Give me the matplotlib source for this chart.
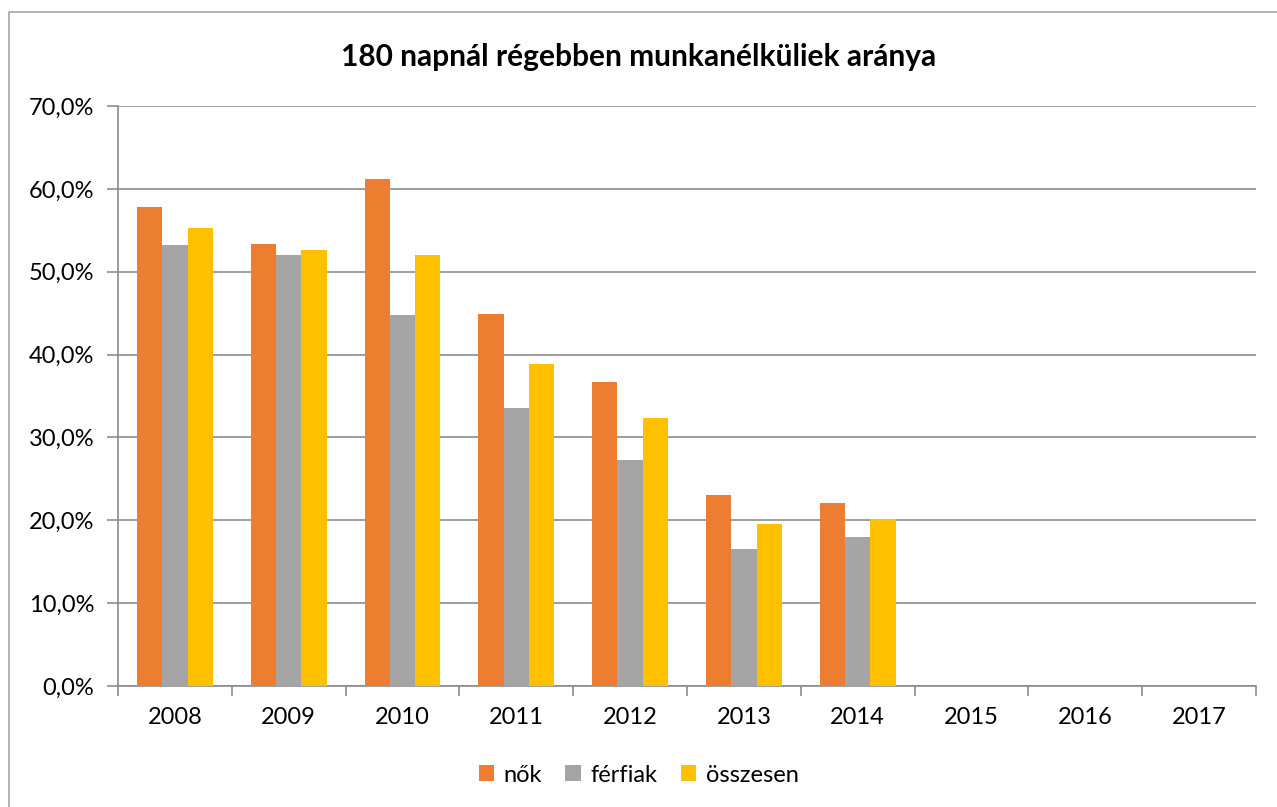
import matplotlib
matplotlib.use("Agg")
import matplotlib.pyplot as plt
import numpy as np
from matplotlib.patches import Rectangle
from matplotlib.ticker import FuncFormatter, FixedLocator, MultipleLocator

years = ["2008", "2009", "2010", "2011", "2012", "2013", "2014", "2015", "2016", "2017"]
nok = [57.8, 53.4, 61.2, 44.9, 36.7, 23.1, 22.1, np.nan, np.nan, np.nan]
ferfiak = [53.2, 52.0, 44.8, 33.5, 27.3, 16.5, 18.0, np.nan, np.nan, np.nan]
osszesen = [55.3, 52.6, 52.0, 38.9, 32.4, 19.6, 20.1, np.nan, np.nan, np.nan]
series_names = ["nők", "férfiak", "összesen"]
colors = ["#ED7D31", "#A5A5A5", "#FFC000"]
title = "180 napnál régebben munkanélküliek aránya"

plt.rcParams['font.family'] = ['Lato', 'DejaVu Sans']

W, H = 1277, 807
fig = plt.figure(figsize=(W / 100, H / 100), dpi=100)
fig.patches.append(Rectangle((9 / W, -0.1), 1.2, 1 - 12 / H + 0.1, transform=fig.transFigure,
                             fill=False, edgecolor="#A6A6A6", linewidth=1.2))

left, right, top, bottom = 118, 1256, 106, 686
ax = fig.add_axes([left / W, 1 - bottom / H, (right - left) / W, (bottom - top) / H])

x = np.arange(len(years))
bw = 0.222
for i, (vals, c, name) in enumerate(zip([nok, ferfiak, osszesen], colors, series_names)):
    ax.bar(x + (i - 1) * bw, vals, width=bw, color=c, label=name, zorder=3)

ax.set_xlim(-0.5, len(years) - 0.5)
ax.set_ylim(0, 70)
ax.yaxis.set_major_locator(MultipleLocator(10))
ax.yaxis.set_major_formatter(FuncFormatter(lambda v, p: f"{v:.1f}%".replace(".", ",")))
ax.grid(axis="y", color="#8C8C8C", linewidth=1.2, zorder=0)
ax.set_axisbelow(True)

ax.set_xticks(x)
ax.set_xticklabels(years)
ax.xaxis.set_minor_locator(FixedLocator(np.arange(-0.5, len(years), 1)))
ax.tick_params(axis="x", which="major", length=0, pad=15, labelsize=17)
ax.tick_params(axis="x", which="minor", length=7, color="#8C8C8C", width=1.2, direction="out")
ax.tick_params(axis="y", length=8, color="#8C8C8C", width=1.2, pad=9, labelsize=17)

for s in ["top", "right"]:
    ax.spines[s].set_visible(False)
for s in ["left", "bottom"]:
    ax.spines[s].set_color("#8C8C8C")
    ax.spines[s].set_linewidth(1.2)

fig.text(0.5, 1 - 57 / H, title, ha="center", va="center", fontsize=21.5, fontweight="bold")

handles, labels = ax.get_legend_handles_labels()
fig.legend(handles, labels, loc="center", bbox_to_anchor=(0.5, 1 - 775 / H), ncol=3,
           frameon=False, fontsize=17, handlelength=0.65, handleheight=0.65,
           handletextpad=0.4, columnspacing=1.0)

fig.savefig("out.png", dpi=100)
